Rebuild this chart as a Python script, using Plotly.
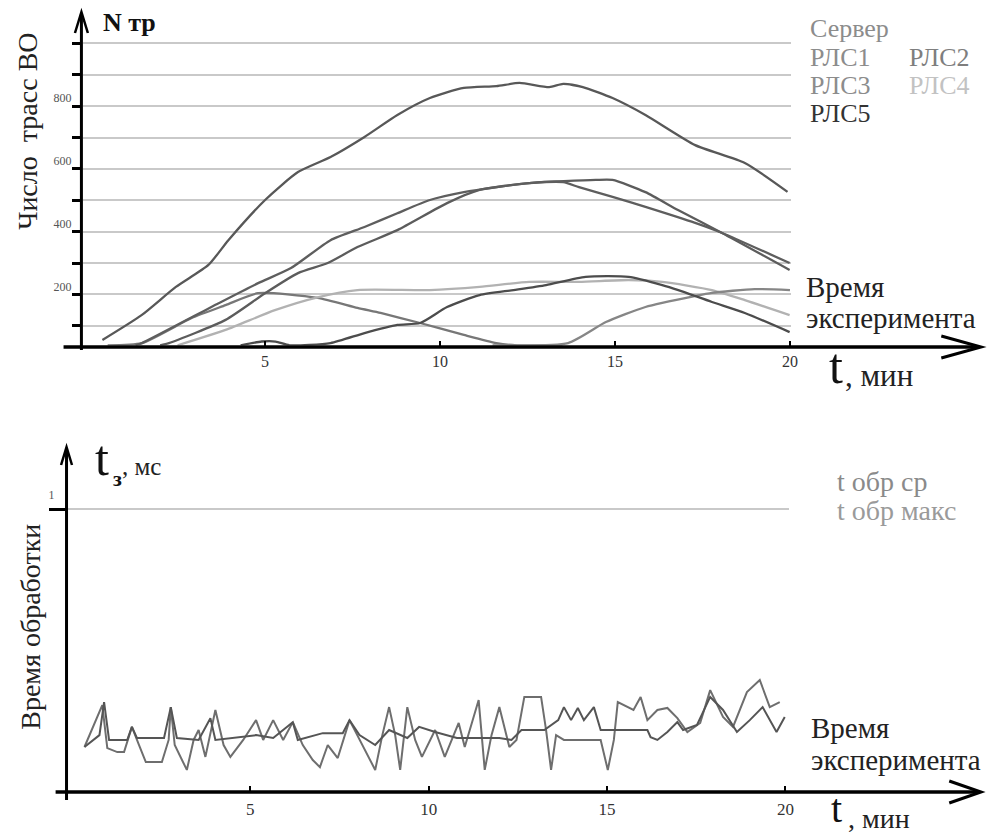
import plotly.graph_objects as go

# ---------------- data ----------------
# Top panel: number of tracks vs time, min
t_server = [0.35, 1.48, 2.45, 3.38, 3.95, 5.0, 5.94, 6.87, 7.84, 8.78, 9.71, 10.68, 11.61, 12.27, 13.12, 13.52, 14.08, 14.93, 15.87, 17.29, 18.71, 19.93]
n_server = [55, 135, 224, 294, 373, 501, 590, 638, 702, 772, 826, 858, 864, 874, 861, 871, 861, 826, 772, 676, 619, 527]

t_rls1 = [1.3, 1.48, 3.67, 4.80, 5.74, 6.87, 7.84, 8.78, 9.71, 10.68, 11.61, 12.55, 13.52, 13.97, 14.93, 15.87, 17.29, 18.06, 19.99]
n_rls1 = [38, 45, 172, 236, 284, 373, 415, 459, 501, 526, 542, 555, 558, 542, 511, 479, 428, 396, 300]

t_rls2 = [2.0, 2.25, 3.87, 5.0, 5.94, 6.79, 7.64, 8.78, 10.20, 11.13, 12.55, 14.45, 14.93, 15.87, 16.80, 18.06, 19.99]
n_rls2 = [38, 45, 119, 204, 268, 300, 351, 405, 491, 533, 555, 565, 565, 526, 469, 396, 278]

t_rls3 = [11.5, 13.66, 14.74, 15.87, 17.29, 17.77, 18.99, 20.0]
n_rls3 = [38, 45, 112, 160, 195, 205, 217, 214]

t_rls4 = [2.5, 3.87, 5.28, 6.50, 7.64, 9.71, 11.13, 12.55, 13.97, 15.39, 16.35, 17.77, 18.71, 19.99]
n_rls4 = [38, 87, 150, 191, 214, 214, 224, 240, 240, 246, 240, 214, 182, 134]

t_rls5 = [4.3, 4.9, 5.3, 5.7, 6.87, 7.84, 8.78, 9.43, 10.20, 11.13, 12.10, 13.03, 14.16, 15.39, 16.35, 16.81, 17.77, 18.71, 19.99]
n_rls5 = [38, 50, 50, 38, 45, 77, 103, 109, 160, 198, 214, 230, 256, 256, 230, 214, 176, 141, 80]

t_extra = [0.5, 1.48, 2.90, 3.87, 4.80, 6.50, 7.64, 8.30, 9.43, 10.68, 11.61, 12.2, 13.5]
n_extra = [38, 45, 125, 166, 204, 189, 157, 141, 109, 71, 45, 38, 38]

# Bottom panel: processing time, ms
t_avg = [0.35, 0.77, 0.90, 1.04, 1.55, 1.68, 1.82, 2.58, 2.77, 2.94, 3.55, 3.88, 4.02, 5.16, 5.64, 6.19, 6.33, 7.03, 7.59, 7.78, 8.06, 8.50, 8.89, 9.40, 9.73, 10.18, 10.79, 11.40, 11.98, 12.32, 12.60, 13.24, 13.63, 13.79, 13.99, 14.18, 14.35, 14.63, 14.82, 15.30, 16.13, 16.22, 16.41, 16.69, 16.97, 17.13, 17.52, 17.89, 18.25, 18.64, 19.00, 19.36, 19.75, 19.98]
v_avg = [0.159, 0.201, 0.318, 0.184, 0.184, 0.230, 0.191, 0.191, 0.300, 0.191, 0.184, 0.261, 0.184, 0.201, 0.191, 0.247, 0.184, 0.208, 0.208, 0.254, 0.201, 0.166, 0.219, 0.191, 0.230, 0.212, 0.191, 0.191, 0.191, 0.184, 0.219, 0.219, 0.254, 0.300, 0.254, 0.297, 0.254, 0.300, 0.219, 0.219, 0.219, 0.194, 0.184, 0.212, 0.247, 0.219, 0.237, 0.336, 0.290, 0.212, 0.254, 0.300, 0.212, 0.265]

t_max = [0.35, 0.85, 0.99, 1.27, 1.46, 1.68, 1.88, 2.07, 2.52, 2.71, 2.77, 2.88, 3.22, 3.41, 3.55, 3.74, 4.02, 4.25, 4.44, 4.80, 5.16, 5.36, 5.64, 5.92, 6.19, 6.47, 6.75, 6.95, 7.17, 7.45, 7.78, 8.14, 8.50, 8.70, 8.89, 9.06, 9.20, 9.40, 9.62, 9.81, 10.18, 10.45, 10.84, 11.01, 11.40, 11.57, 11.76, 11.98, 12.26, 12.46, 12.68, 13.15, 13.29, 13.43, 13.57, 13.79, 14.41, 14.82, 15.02, 15.19, 15.30, 15.74, 15.94, 16.13, 16.41, 16.69, 16.97, 17.25, 17.61, 17.89, 18.25, 18.53, 18.92, 19.28, 19.56, 19.84]
v_max = [0.159, 0.307, 0.155, 0.141, 0.141, 0.230, 0.166, 0.106, 0.106, 0.184, 0.300, 0.166, 0.078, 0.184, 0.219, 0.124, 0.290, 0.166, 0.124, 0.184, 0.254, 0.184, 0.254, 0.184, 0.247, 0.166, 0.113, 0.088, 0.166, 0.120, 0.254, 0.166, 0.078, 0.201, 0.300, 0.201, 0.078, 0.300, 0.184, 0.124, 0.219, 0.124, 0.244, 0.159, 0.325, 0.078, 0.201, 0.300, 0.159, 0.184, 0.336, 0.336, 0.219, 0.078, 0.201, 0.184, 0.184, 0.184, 0.078, 0.184, 0.318, 0.290, 0.336, 0.254, 0.290, 0.297, 0.261, 0.212, 0.244, 0.360, 0.265, 0.230, 0.353, 0.396, 0.300, 0.318]

top_tickvals = [100, 200, 300, 400, 500, 600, 700, 800, 900, 1000]
top_ticktext = ["", "200", "", "400", "", "600", "", "800", "", ""]
x_tickvals = [5, 10, 15, 20]
bottom_tickvals = [1]
bottom_ticktext = ["1"]

# ---------------- figure ----------------
W, H = 990, 835
FONT = "Liberation Serif, DejaVu Serif, serif"


def PX(x):
    return x / W


def PY(y):
    return 1 - y / H


fig = go.Figure()

top_series = [
    (t_extra, n_extra, "#777777", "РЛС"),
    (t_rls4, n_rls4, "#b2b2b2", "РЛС4"),
    (t_rls3, n_rls3, "#868686", "РЛС3"),
    (t_rls5, n_rls5, "#4c4c4c", "РЛС5"),
    (t_rls2, n_rls2, "#5c5c5c", "РЛС2"),
    (t_rls1, n_rls1, "#5e5e5e", "РЛС1"),
    (t_server, n_server, "#585858", "Сервер"),
]
for tx, ny, col, nm in top_series:
    fig.add_trace(go.Scatter(x=tx, y=ny, mode="lines", name=nm,
                             line=dict(color=col, width=2.3, shape="spline", smoothing=0.6),
                             xaxis="x", yaxis="y", showlegend=False))

fig.add_trace(go.Scatter(x=t_max, y=v_max, mode="lines", name="t обр макс",
                         line=dict(color="#6e6e6e", width=2),
                         xaxis="x2", yaxis="y2", showlegend=False))
fig.add_trace(go.Scatter(x=t_avg, y=v_avg, mode="lines", name="t обр ср",
                         line=dict(color="#555555", width=2),
                         xaxis="x2", yaxis="y2", showlegend=False))

axis_common = dict(showline=False, zeroline=False, fixedrange=True)

fig.update_layout(
    width=W, height=H, autosize=False,
    margin=dict(l=0, r=0, t=0, b=0),
    paper_bgcolor="white", plot_bgcolor="white",
    font=dict(family=FONT, color="#222222"),
    showlegend=False,
    xaxis=dict(domain=[PX(83.5), PX(797)], range=[-0.207, 20.04], anchor="y",
               tickvals=x_tickvals, ticks="inside", ticklen=5, tickwidth=2,
               tickcolor="black", showgrid=False, ticklabelstandoff=4,
               tickfont=dict(size=16, color="#333333", family=FONT), **axis_common),
    yaxis=dict(domain=[PY(345.5), PY(20)], range=[37.3, 1074.7], anchor="x",
               tickvals=top_tickvals, ticktext=top_ticktext,
               ticks="outside", ticklen=10, tickwidth=3, tickcolor="black",
               showgrid=True, gridcolor="#c9c9c9", gridwidth=2,
               ticklabelshift=-8, ticklabelstandoff=-2,
               tickfont=dict(size=12, color="#555555", family=FONT), **axis_common),
    xaxis2=dict(domain=[PX(68.5), PX(795)], range=[-0.111, 20.11], anchor="y2",
                tickvals=x_tickvals, ticks="inside", ticklen=5, tickwidth=2,
                tickcolor="black", showgrid=False, ticklabelstandoff=6,
                tickfont=dict(size=17, color="#333333", family=FONT), **axis_common),
    yaxis2=dict(domain=[PY(790.5), PY(455)], range=[0.0053, 1.191], anchor="x2",
                tickvals=bottom_tickvals, ticktext=bottom_ticktext,
                ticks="outside", ticklen=18, tickwidth=3, tickcolor="black",
                showgrid=True, gridcolor="#c9c9c9", gridwidth=2,
                ticklabelshift=-14, ticklabelstandoff=-8,
                tickfont=dict(size=12, color="#555555", family=FONT), **axis_common),
)

# ---------------- axis lines with arrows ----------------
def seg(x0, y0, x1, y1, w=3):
    fig.add_shape(type="line", xref="paper", yref="paper",
                  x0=PX(x0), y0=PY(y0), x1=PX(x1), y1=PY(y1),
                  line=dict(color="black", width=w))


def chevron(pts, w=3):
    p = "M " + " L ".join(f"{PX(x):.5f},{PY(y):.5f}" for x, y in pts)
    fig.add_shape(type="path", xref="paper", yref="paper", path=p,
                  line=dict(color="black", width=w))


# top panel
seg(64, 347, 984, 347, 3.5)
chevron([(948, 336), (988, 347), (948, 358)])
seg(82, 350, 82, 14)
chevron([(75.5, 33), (82, 12), (88.5, 33)], 2.5)
# bottom panel
seg(56, 792, 984, 792, 3.5)
chevron([(956, 781), (988, 792), (956, 803)])
seg(67, 800, 67, 450)
chevron([(61.5, 465), (67, 447), (72.5, 465)], 2.5)

# ---------------- texts ----------------
def txt(s, x, y, size, color="#222222", anchor="left", angle=0, valign="middle"):
    fig.add_annotation(text=s, x=PX(x), y=PY(y), xref="paper", yref="paper",
                       xanchor=anchor, yanchor=valign, showarrow=False,
                       textangle=angle, borderpad=0,
                       font=dict(family=FONT, size=size, color=color))


txt("<b>N тр</b>", 103, 23, 26, "#111111")
txt("Число  трасс ВО", 27, 131, 28, "#222222", anchor="center", angle=-90)

txt("Сервер", 815, 28, 26, "#8c8c8c")
txt("РЛС1", 815, 57, 26, "#8c8c8c")
txt("РЛС2", 914, 57, 26, "#7e7e7e")
txt("РЛС3", 815, 85, 26, "#8c8c8c")
txt("РЛС4", 914, 85, 26, "#c2c2c2")
txt("РЛС5", 815, 113, 26, "#333333")

txt("Время", 811, 287, 29, "#222222")
txt("эксперимента", 811, 318, 29, "#222222")
txt("t", 834, 366, 50, "#111111")
txt(", мин", 850, 375, 31, "#222222")

txt("t", 95, 458, 50, "#111111")
txt("<b>з</b>", 113, 478, 22, "#111111")
txt(", мс", 122, 466, 25, "#222222")
txt("Время обработки", 30, 627, 28, "#222222", anchor="center", angle=-90)

txt("t обр ср", 842, 481, 28, "#8a8a8a")
txt("t обр макс", 842, 510, 28, "#9a9a9a")
txt("Время", 816, 728, 29, "#222222")
txt("эксперимента", 816, 760, 29, "#222222")
txt("t", 836, 808, 40, "#111111")
txt(", мин", 853, 818, 28, "#222222")

fig.write_html(
    "out.html",
    config={"displayModeBar": False, "staticPlot": True},
    post_script="document.body.style.margin='0';document.body.style.padding='0';"
                "document.body.style.overflow='hidden';",
)
